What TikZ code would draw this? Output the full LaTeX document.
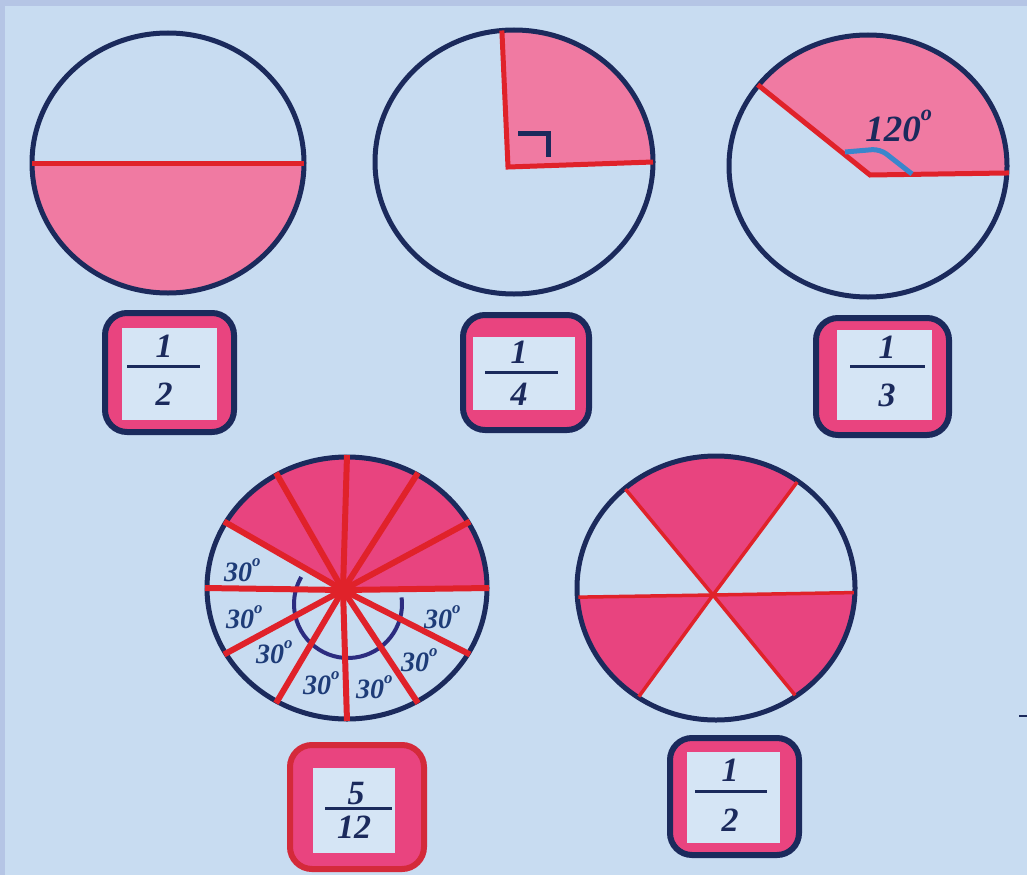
\documentclass[tikz,border=0pt]{standalone}
\usepackage{fontspec}
\setmainfont{Liberation Serif}
\definecolor{bg}{HTML}{C8DCF1}
\definecolor{framec}{HTML}{B5C5E5}
\definecolor{navy}{HTML}{1B2A5C}
\definecolor{redl}{HTML}{E0222A}
\definecolor{pinkA}{HTML}{F07AA2}
\definecolor{pinkB}{HTML}{E8447F}
\definecolor{band}{HTML}{E9447F}
\definecolor{innerbox}{HTML}{D5E5F5}
\definecolor{angblue}{HTML}{3A86CC}
\definecolor{degtxt}{HTML}{1E3C78}
\definecolor{boxred}{HTML}{D42A3A}
\definecolor{arcnavy}{HTML}{2C2C80}
\newcommand{\degsup}{\rlap{\raisebox{0.55em}{\scalebox{0.6}{o}}}}
\begin{document}
\begin{tikzpicture}[x=1pt,y=-1pt,
  circ/.style={draw=navy,line width=5pt},
  ray/.style={draw=redl,line width=5pt},
  thinray/.style={draw=redl,line width=3.5pt},
  frtxt/.style={text=navy,inner sep=0pt,font=\fontsize{34}{36}\selectfont\bfseries\itshape},
  frline/.style={draw=navy,line width=3pt},
  degtext/.style={text=degtxt,inner sep=0pt,font=\fontsize{28}{30}\selectfont\bfseries\itshape},
  bigdeg/.style={text=navy,inner sep=0pt,font=\fontsize{37}{39}\selectfont\bfseries\itshape},
  boxouter/.style={line width=6pt,fill=band,rounded corners=22pt},
  boxinner/.style={fill=innerbox},
]
\useasboundingbox (0,0) rectangle (1027,875);
\fill[framec] (0,0) rectangle (1027,875);
\fill[bg] (5,6) rectangle (1027,875);

% ---------- circle 1 : 1/2
\begin{scope}[shift={(168,163)}]
  \fill[pinkA] (-136,0) arc[start angle=180,end angle=0,x radius=136,y radius=130] -- cycle;
  \draw[circ] (0,0) ellipse[x radius=136,y radius=130];
  \draw[ray] (-136,0) -- (136,0);
\end{scope}

% ---------- circle 2 : 1/4
\begin{scope}[shift={(514,162)}]
  \fill[pinkA] (-6,5) -- (-95:139 and 132) arc[start angle=-95,end angle=0,x radius=139,y radius=132] -- cycle;
  \draw[circ] (0,0) ellipse[x radius=139,y radius=132];
  \draw[ray,line join=miter] (-95:139 and 132) -- (-6,5) -- (0:139 and 132);
  \draw[draw=navy,line width=5pt] (4,-29) -- (34,-29) -- (34,-5);
\end{scope}

% ---------- circle 3 : 1/3
\begin{scope}[shift={(868,166)}]
  \fill[pinkA] (2,9) -- (-142:139 and 131) arc[start angle=-142,end angle=3,x radius=139,y radius=131] -- cycle;
  \draw[circ] (0,0) ellipse[x radius=139,y radius=131];
  \draw[ray,line join=miter] (-142:140 and 132) -- (2,9) -- (3:141 and 133);
  \draw[draw=angblue,line width=5pt,rounded corners=8pt] (-23,-14) -- (12,-17) -- (44,8);
  \node[bigdeg] (t120) at (25,-40) {120\degsup};
\end{scope}

% ---------- circle 4 : 5/12
\begin{scope}[shift={(347,588)}]
  \fill[pinkB] (-4,2) -- (-150:140 and 131) arc[start angle=-150,end angle=0,x radius=140,y radius=131] -- cycle;
  \draw[draw=arcnavy,line width=4pt] (1,16) ++(-7:54) arc[start angle=-7,end angle=210,radius=54];
  \draw[circ] (0,0) ellipse[x radius=140,y radius=131];
  \foreach \a in {0,30,...,330} \draw[ray,line width=6pt] (-4,2) -- (\a:142 and 133);
  \node[degtext] (d1) at (-109,-18) {30\degsup};
  \node[degtext] (d2) at (-107,29) {30\degsup};
  \node[degtext] (d3) at (-77,64) {30\degsup};
  \node[degtext] (d4) at (-30,95) {30\degsup};
  \node[degtext] (d5) at (23,99) {30\degsup};
  \node[degtext] (d6) at (68,72) {30\degsup};
  \node[degtext] (d7) at (91,29) {30\degsup};
\end{scope}

% ---------- circle 5 : 1/2 (sixths)
\begin{scope}[shift={(716,588)}]
  \fill[pinkB] (-3,7) -- (-131:139 and 132) arc[start angle=-131,end angle=-54,x radius=139,y radius=132] -- cycle;
  \fill[pinkB] (-3,7) -- (124:139 and 132) arc[start angle=124,end angle=176,x radius=139,y radius=132] -- cycle;
  \fill[pinkB] (-3,7) -- (2:139 and 132) arc[start angle=2,end angle=55,x radius=139,y radius=132] -- cycle;
  \draw[circ] (0,0) ellipse[x radius=139,y radius=132];
  \foreach \a in {-131,-54,2,55,124,176} \draw[thinray] (-3,7) -- (\a:138 and 131);
\end{scope}

% ---------- fraction boxes
% box 1 : 1/2
\draw[boxouter,draw=navy] (105,313) rectangle (234,432);
\fill[boxinner] (122,328) rectangle (217,420);
\node[frtxt] (b1n) at (164,346) {1};
\node[frtxt] (b1d) at (164,394) {2};
\draw[frline] (127,366) -- (200,366);

% box 2 : 1/4
\draw[boxouter,draw=navy] (463,315) rectangle (589,430);
\fill[boxinner] (473,337) rectangle (575,410);
\node[frtxt] (b2n) at (519,352) {1};
\node[frtxt] (b2d) at (519,394) {4};
\draw[frline] (485,372) -- (558,372);

% box 3 : 1/3
\draw[boxouter,draw=navy] (816,318) rectangle (949,435);
\fill[boxinner] (837,330) rectangle (932,420);
\node[frtxt] (b3n) at (887,347) {1};
\node[frtxt] (b3d) at (887,395) {3};
\draw[frline] (850,366) -- (925,366);

% box 4 : 5/12
\draw[boxouter,draw=boxred] (290,745) rectangle (424,869);
\fill[boxinner] (313,768) rectangle (395,853);
\node[frtxt] (b4n) at (356,794) {5};
\node[frtxt] (b4d) at (354,827) {12};
\draw[frline] (325,808) -- (392,808);

% box 5 : 1/2
\draw[boxouter,draw=navy] (670,738) rectangle (799,855);
\fill[boxinner] (687,752) rectangle (780,843);
\node[frtxt] (b5n) at (730,770) {1};
\node[frtxt] (b5d) at (730,820) {2};
\draw[frline] (695,791) -- (767,791);

% small mark at right edge
\draw[draw=navy,line width=2pt] (1019,716) -- (1027,716);
\end{tikzpicture}
\end{document}
